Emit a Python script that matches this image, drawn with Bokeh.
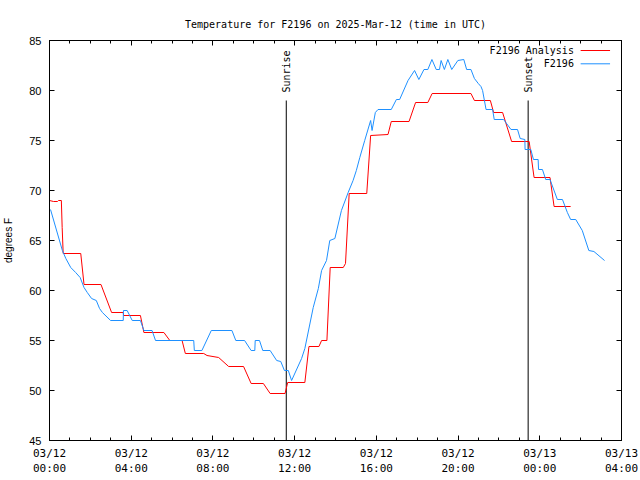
import math
from bokeh.plotting import figure
from bokeh.models import Range1d, LinearAxis, FixedTicker, Label
from bokeh.core.properties import value
from bokeh.embed import file_html
from bokeh.resources import INLINE

title_text = "Temperature for F2196 on 2025-Mar-12 (time in UTC)"
analysis_name = "F2196 Analysis"
obs_name = "F2196"
y_label = "degrees F"

# hours since 2025-03-12 00:00 UTC
analysis_hours = [0.0, 0.2, 0.39, 0.44, 0.58, 0.62, 0.67, 1.53, 1.69, 2.52, 3.04, 3.61, 3.63,
                  4.45, 4.62, 5.60, 5.89, 6.49, 6.65, 7.55, 7.71, 8.28, 8.77, 9.50, 9.87,
                  10.47, 10.80, 11.53, 11.66, 12.50, 12.70, 13.19, 13.32, 13.58, 13.74,
                  14.38, 14.49, 14.67, 15.53, 15.72, 16.57, 16.73, 17.60, 17.92, 18.52,
                  18.73, 20.63, 20.80, 21.58, 21.74, 22.18, 22.62, 23.48, 23.72, 24.50,
                  24.70, 25.51]
analysis_temps = [69.0, 68.9, 68.9, 69.0, 69.0, 66.3, 63.7, 63.7, 60.6, 60.6, 57.8, 57.8, 57.5,
                  57.5, 55.8, 55.8, 55.0, 55.0, 53.7, 53.7, 53.5, 53.3, 52.4, 52.4, 50.7,
                  50.7, 49.7, 49.7, 50.8, 50.8, 54.4, 54.4, 55.0, 55.0, 62.3,
                  62.3, 62.7, 69.7, 69.7, 75.5, 75.6, 76.9, 76.9, 78.8, 78.8,
                  79.7, 79.7, 79.0, 79.0, 77.8, 77.8, 74.9, 74.9, 71.3, 71.3,
                  68.4, 68.4]

obs_hours = [0.05, 0.63, 0.80, 1.04, 1.28, 1.50, 1.69, 1.85, 2.06, 2.29, 2.45, 2.59, 2.99,
             3.61, 3.62, 3.80, 4.05, 4.45, 4.62, 5.02, 5.19, 7.06, 7.09, 7.46, 7.92, 8.93,
             9.12, 9.55, 9.87, 10.05, 10.07, 10.28, 10.44, 10.80, 11.12, 11.32, 11.50,
             11.69, 11.85, 12.34, 12.50, 12.91, 13.16, 13.32, 13.56, 13.72, 13.97, 14.29,
             14.62, 14.86, 15.02, 15.19, 15.43, 15.72, 15.79, 15.95, 16.08, 16.73, 16.98,
             17.14, 17.55, 17.87, 18.08, 18.33, 18.52, 18.72, 18.93, 19.09, 19.17, 19.33,
             19.50, 19.69, 19.99, 20.28, 20.42, 20.63, 20.80, 20.99, 21.12, 21.20, 21.37,
             21.69, 21.77, 22.23, 22.59, 22.91, 23.04, 23.27, 23.28, 23.56, 23.69, 23.92,
             23.94, 24.13, 24.29, 24.50, 24.86, 25.11, 25.35, 25.51, 25.76, 26.08, 26.40,
             26.65, 27.17]
obs_temps = [68.1, 64.0, 63.2, 62.3, 61.8, 61.3, 60.3, 59.8, 59.2, 59.0, 58.2, 57.8, 57.0,
             57.0, 58.0, 58.0, 57.0, 57.0, 56.0, 56.0, 55.0, 55.0, 54.0, 54.0, 56.0, 56.0,
             55.0, 55.0, 54.0, 54.0, 55.0, 55.0, 54.0, 54.0, 53.0, 52.9, 52.0,
             52.0, 51.0, 53.2, 54.2, 58.3, 60.2, 62.0, 63.0, 65.0, 65.2, 68.0,
             69.8, 71.0, 72.0, 73.3, 75.0, 77.0, 76.0, 77.8, 78.1, 78.1, 79.1,
             79.1, 81.0, 82.0, 81.1, 82.1, 82.1, 83.1, 82.1, 82.1, 83.0, 82.1,
             83.1, 82.1, 83.0, 83.1, 82.1, 82.1, 81.2, 80.7, 80.4, 80.0, 78.1,
             78.1, 77.1, 77.1, 76.1, 76.1, 75.2, 75.1, 74.1, 74.1, 73.1, 73.1,
             72.1, 72.1, 71.1, 71.1, 69.1, 69.1, 67.8, 67.1, 67.1, 66.0, 64.0,
             63.9, 63.0]

sun_hours = [11.59, 23.43]
sun_names = ["Sunrise", "Sunset"]

x_tick_hours = [0, 4, 8, 12, 16, 20, 24, 28]
x_tick_labels = ["03/12\n00:00", "03/12\n04:00", "03/12\n08:00", "03/12\n12:00",
                 "03/12\n16:00", "03/12\n20:00", "03/13\n00:00", "03/13\n04:00"]
x_minor_hours = list(range(0, 29))
y_ticks = [45, 50, 55, 60, 65, 70, 75, 80, 85]

RED = "#ff0000"
BLUE = "#1e90ff"
MONO = "DejaVu Sans Mono"
SANS = "Liberation Sans"

p = figure(width=640, height=480, x_range=Range1d(0, 28), y_range=Range1d(45, 85),
           output_backend="svg", toolbar_location=None, title=title_text,
           x_axis_type=None, y_axis_type=None,
           min_border_left=47, min_border_right=19, min_border_top=40, min_border_bottom=40)
p.outline_line_color = "black"
p.outline_line_width = 1
p.background_fill_color = "white"
p.border_fill_color = "white"

p.title.text_font = MONO
p.title.text_font_size = "10px"
p.title.text_font_style = "normal"
p.title.text_color = "black"
p.title.align = "center"
p.title.standoff = 21

def style_axis(ax):
    ax.axis_line_color = "black"
    ax.major_tick_line_color = "black"
    ax.minor_tick_line_color = "black"
    ax.major_tick_in = 5
    ax.major_tick_out = 0
    ax.minor_tick_in = 3
    ax.minor_tick_out = 0
    ax.major_label_text_color = "black"
    ax.axis_label_text_color = "black"

xb = LinearAxis(ticker=FixedTicker(ticks=x_tick_hours, minor_ticks=x_minor_hours))
style_axis(xb)
xb.major_label_overrides = {h: l for h, l in zip(x_tick_hours, x_tick_labels)}
xb.major_label_text_font = MONO
xb.major_label_text_font_size = "11px"
xb.major_label_standoff = 6
p.add_layout(xb, "below")

xt = LinearAxis(ticker=FixedTicker(ticks=x_tick_hours, minor_ticks=x_minor_hours))
style_axis(xt)
xt.major_label_overrides = {h: "" for h in x_tick_hours}
xt.major_label_standoff = 0
p.add_layout(xt, "above")

yl = LinearAxis(ticker=FixedTicker(ticks=y_ticks, minor_ticks=[]))
style_axis(yl)
yl.major_label_text_font = SANS
yl.major_label_text_font_size = "11px"
yl.major_label_standoff = 8
yl.axis_label = y_label
yl.axis_label_text_font = SANS
yl.axis_label_text_font_size = "10px"
yl.axis_label_text_font_style = "normal"
yl.axis_label_standoff = 12
p.add_layout(yl, "left")

yr = LinearAxis(ticker=FixedTicker(ticks=y_ticks, minor_ticks=[]))
style_axis(yr)
yr.major_label_overrides = {t: "" for t in y_ticks}
yr.major_label_standoff = 0
p.add_layout(yr, "right")

# sunrise / sunset markers
p.segment(x0=sun_hours, y0=[45, 45], x1=sun_hours, y1=[79, 79],
          line_color="black", line_width=1)
p.text(x=sun_hours, y=[79.8, 79.8], text=sun_names, angle=math.pi / 2,
       text_align="left", text_baseline="middle",
       text_font=value(MONO), text_font_size="10px", text_color="black")

# data
p.line(analysis_hours, analysis_temps, line_color=RED, line_width=1)
p.line(obs_hours, obs_temps, line_color=BLUE, line_width=1)

# gnuplot-style key (text, then sample line)
key_text_x = 25.67
key_line = (26.0, 27.44)
for name, color, ky in [(analysis_name, RED, 84.0), (obs_name, BLUE, 82.67)]:
    p.add_layout(Label(x=key_text_x, y=ky, text=name, text_align="right",
                       text_baseline="middle", text_font=MONO, text_font_size="10px",
                       text_color="black"))
    p.segment(x0=[key_line[0]], y0=[ky], x1=[key_line[1]], y1=[ky],
              line_color=color, line_width=1)

open("out.html", "w").write(file_html(p, INLINE))
